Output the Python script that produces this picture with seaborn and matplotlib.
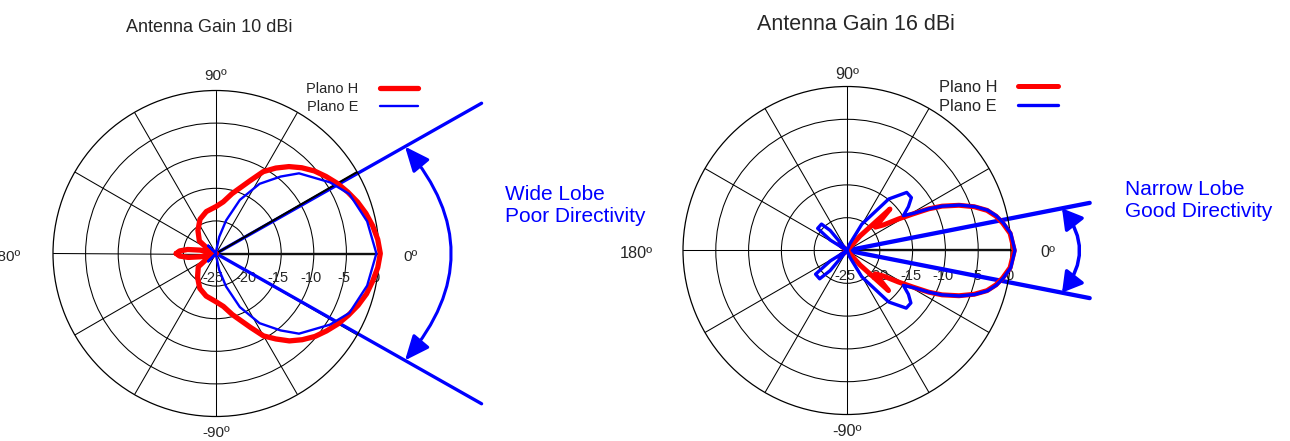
import numpy as np
import matplotlib
matplotlib.use('Agg')
import matplotlib.pyplot as plt
import seaborn as sns

sns.set_style('white')
plt.rcParams['font.family'] = ['Liberation Sans', 'DejaVu Sans']

# radial scale (dB)
r_min, r_max = -25, 0
ring_ticks = [-20, -15, -10, -5]
ring_labels = [-25, -20, -15, -10, -5, 0]

# antenna 10 dBi - Plano H (deg, dB)
left_h_deg = [-180, -176, -172, -168, -163, -157, -150, -143, -128, -115, -103, -90, -82, -75, -65, -60, -55,
              -50, -45, -40, -35, -30, -25, -20, -15, -10, -5, 0, 5, 10, 15, 20, 25, 30, 35, 40, 45, 50, 55, 60, 65,
              75, 82, 90, 103, 115, 128, 143, 150, 157, 163, 168, 172, 176, 180]
left_h_db = [-18.9, -19.4, -20.7, -22.6, -24.5, -25, -23.4, -21.6, -20.4, -19.1, -18.3, -17.6, -16.8, -15.3, -12.5, -10.4, -9.0,
             -7.5, -6.3, -5.2, -4.3, -3.4, -2.6, -1.8, -1.1, -0.6, -0.1, 0.2, -0.1, -0.6, -1.2, -1.9, -2.7, -3.5, -4.4, -5.3,
             -6.4, -7.6, -9.0, -10.5, -12.7,
             -15.5, -17.0, -17.8, -18.4, -19.2, -20.5, -21.8, -23.5, -25, -24.5, -22.5, -20.6, -19.4, -18.9]

# antenna 10 dBi - Plano E
left_e_deg = [-180, -145, -135, -125, -92, -86, -79, -73, -66, -58, -50, -44, -32, -24, -12,
              0, 12, 24, 32, 44, 50, 58, 66, 73, 79, 86, 92, 125, 135, 145, 180]
left_e_db = [-25, -25, -23.3, -25, -25, -24.6, -22.4, -19.7, -16.0, -12.4, -9.6, -7.3, -4.4, -2.6, -1.3,
             -0.4, -1.3, -2.6, -4.4, -7.3, -9.6, -12.4, -16.0, -19.7, -22.4, -24.6, -25, -25, -23.3, -25, -25]

# antenna 16 dBi - Plano H
right_h_deg = [-180, -145, -140, -135, -55, -48, -44, -39.5, -35, -31.5, -29, -27, -25, -22, -19, -16, -13, -10, -6,
               0, 6, 10, 13, 16, 19, 22, 25, 27, 29, 31.5, 35, 39.5, 44, 48, 55, 135, 140, 145, 180]
right_h_db = [-25, -25, -23.5, -25, -25, -22.0, -16.2, -19.4, -18.2, -15.8, -13.5, -11.0, -9.0, -6.6, -4.5, -2.8, -1.7, -0.9, 0.0,
              0.5, 0.0, -0.9, -1.7, -2.8, -4.5, -6.6, -9.0, -11.0, -13.5, -15.8, -18.2, -19.4, -15.9, -22.0, -25, -25, -23.5, -25, -25]

# antenna 16 dBi - Plano E
right_e_deg = [-180, -153, -148, -143, -134, -130, -125, -72, -68, -60.6, -51, -44.2, -39.4, -35.5, -31.7, -29, -27, -25,
               -22, -19, -16, -13, -10, -6, 0, 6, 10, 13, 16, 19, 22, 25, 27, 29, 31.7, 35.5, 39.4, 44.2, 51, 60.6,
               68, 72, 125, 130, 134, 143, 148, 153, 180]
right_e_db = [-25, -25, -22, -19.0, -19.0, -21, -25, -25, -24, -20.4, -14.9, -12.4, -12.4, -13.5, -14.9, -13.2, -11.0, -9.0,
              -6.5, -4.4, -2.7, -1.6, -0.8, 0.1, 0.6, 0.1, -0.8, -1.6, -2.7, -4.4, -6.5, -9.0, -11.0, -13.2, -14.9, -13.5,
              -12.3, -12.3, -14.9, -20.4, -24, -25, -25, -21, -19.4, -19.4, -22, -25, -25]

W, H = 1290, 441
fig = plt.figure(figsize=(W / 100, H / 100), dpi=100)
fig.patch.set_facecolor('white')


def polar_axes(cx, cy, R):
    ax = fig.add_axes([(cx - R) / W, (H - cy - R) / H, 2 * R / W, 2 * R / H], projection='polar')
    ax.set_ylim(r_min, r_max)
    ax.set_yticks(ring_ticks)
    ax.set_yticklabels([])
    ax.set_xticks(np.deg2rad(np.arange(0, 360, 30)))
    ax.set_xticklabels([])
    ax.grid(True, color='black', lw=0.75)
    ax.spines['polar'].set_color('black')
    ax.spines['polar'].set_linewidth(0.9)
    ax.set_facecolor('white')
    return ax


def draw_chart(ax, h_deg, h_db, e_deg, e_db, cfg):
    # radial labels under the 0 deg axis
    for r in ring_labels:
        ax.annotate(f'{r}', xy=(0, r), xytext=cfg['rlab_off'], textcoords='offset pixels',
                    ha='center', va='center', fontsize=cfg['rlab_fs'], zorder=1.5, annotation_clip=False)
    ax.plot([0, 0], [r_min, r_max], color='#111111', lw=1.7, zorder=2)
    # lobe limit lines
    for a in cfg['lobe_angles']:
        ax.plot(np.deg2rad([a, a]), [r_min, cfg['lobe_len']], color='blue', lw=cfg['lobe_lw'],
                clip_on=False, zorder=2.5)
    if cfg.get('thick_spoke') is not None:
        a = cfg['thick_spoke']
        ax.plot(np.deg2rad([a, a]), [r_min, r_max], color='black', lw=1.5, zorder=2.6)
    sns.lineplot(x=np.deg2rad(h_deg), y=h_db, ax=ax, color='red', lw=cfg['h_lw'], sort=False,
                 estimator=None, label='Plano H', clip_on=False, zorder=3)
    sns.lineplot(x=np.deg2rad(e_deg), y=e_db, ax=ax, color='blue', lw=cfg['e_lw'], sort=False,
                 estimator=None, label='Plano E', clip_on=False, zorder=3.5)
    ax.set_xlabel('')
    ax.set_ylabel('')
    ax.set_ylim(r_min, r_max)
    # double arrow between lobe lines
    a1, a2 = cfg['lobe_angles']
    ax.annotate('', xy=(np.deg2rad(a1), cfg['arrow_r']), xytext=(np.deg2rad(a2), cfg['arrow_r']),
                xycoords='data', annotation_clip=False,
                arrowprops=dict(arrowstyle=cfg['arrow_style'], mutation_scale=15,
                                connectionstyle=f"arc3,rad={cfg['arrow_rad']}", color='blue',
                                lw=cfg['arrow_lw'], shrinkA=0, shrinkB=0))
    # angle labels
    for txt, (x, y) in cfg['theta_labels'].items():
        ax.text(x, y, txt, transform=ax.transAxes, ha='center', va='center',
                fontsize=cfg['tlab_fs'], clip_on=False)
    ax.legend(loc='upper right', bbox_to_anchor=cfg['leg_anchor'], bbox_transform=fig.transFigure,
              frameon=False, markerfirst=False, fontsize=cfg['leg_fs'], handlelength=cfg['leg_hl'],
              handletextpad=cfg['leg_pad'], labelspacing=0.25, borderpad=0, borderaxespad=0)


ax1 = polar_axes(216, 253.5, 163)
draw_chart(ax1, left_h_deg, left_h_db, left_e_deg, left_e_db, dict(
    rlab_off=(-3, -25), rlab_fs=10.5, lobe_angles=[-29.5, 29.5], lobe_len=21.8, lobe_lw=2.4,
    thick_spoke=30, h_lw=3.8, e_lw=1.7, arrow_r=8.3, arrow_rad=-0.42,
    arrow_style='<|-|>,head_length=1.0,head_width=0.43', arrow_lw=2.2,
    theta_labels={'90º': (0.5, 1.046), '-90º': (0.5, -0.052), '0º': (1.098, 0.488), '180º': (-0.145, 0.488)},
    tlab_fs=11, leg_anchor=(418 / W, 1 - 82 / H), leg_fs=10.5, leg_hl=2.6, leg_pad=1.5))

ax2 = polar_axes(847, 250.5, 164)
draw_chart(ax2, right_h_deg, right_h_db, right_e_deg, right_e_db, dict(
    rlab_off=(-2, -26), rlab_fs=10.5, lobe_angles=[-11.1, 11.1], lobe_len=12.7, lobe_lw=3.1,
    thick_spoke=None, h_lw=3.6, e_lw=2.4, arrow_r=8.4, arrow_rad=-0.39,
    arrow_style='<|-|>,head_length=0.8,head_width=0.47', arrow_lw=2.5,
    theta_labels={'90º': (0.5, 1.036), '-90º': (0.5, -0.052), '0º': (1.112, 0.494), '180º': (-0.142, 0.491)},
    tlab_fs=11.7, leg_anchor=(1058 / W, 1 - 80 / H), leg_fs=11.8, leg_hl=2.44, leg_pad=1.28))

fig.text(209.5 / W, 1 - 32 / H, 'Antenna Gain 10 dBi', ha='center', va='baseline', fontsize=13)
fig.text(856 / W, 1 - 30 / H, 'Antenna Gain 16 dBi', ha='center', va='baseline', fontsize=15.5)
fig.text(505 / W, 1 - 222 / H, 'Wide Lobe\nPoor Directivity', ha='left', va='baseline',
         fontsize=15, color='blue')
fig.text(1125 / W, 1 - 217 / H, 'Narrow Lobe\nGood Directivity', ha='left', va='baseline',
         fontsize=15, color='blue')

fig.savefig('out.png', dpi=100)
